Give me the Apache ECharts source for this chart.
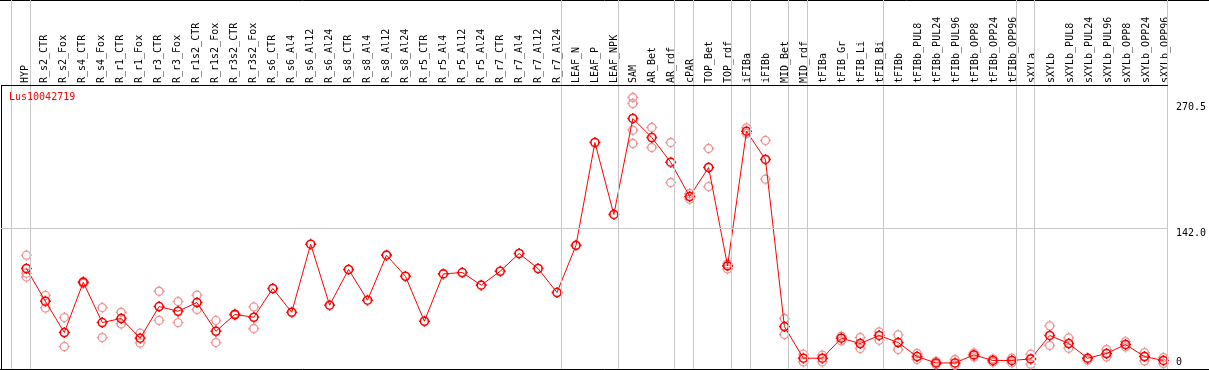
<!DOCTYPE html>
<html><head><meta charset="utf-8">
<script src="https://cdn.jsdelivr.net/npm/echarts@6/dist/echarts.min.js"></script>
<style>html,body{margin:0;padding:0;background:#fff}#c{width:1209px;height:370px}</style>
</head><body><div id="c"></div>
<script>
const geneName = 'Lus10042719';
const categories = ['HYP','R_s2_CTR','R_s2_Fox','R_s4_CTR','R_s4_Fox','R_r1_CTR','R_r1_Fox','R_r3_CTR','R_r3_Fox','R_r1s2_CTR','R_r1s2_Fox','R_r3s2_CTR','R_r3s2_Fox','R_s6_CTR','R_s6_Al4','R_s6_Al12','R_s6_Al24','R_s8_CTR','R_s8_Al4','R_s8_Al12','R_s8_Al24','R_r5_CTR','R_r5_Al4','R_r5_Al12','R_r5_Al24','R_r7_CTR','R_r7_Al4','R_r7_Al12','R_r7_Al24','LEAF_N','LEAF_P','LEAF_NPK','SAM','AR_Bet','AR_rdf','cPAR','TOP_Bet','TOP_rdf','iFIBa','iFIBb','MID_Bet','MID_rdf','tFIBa','tFIB_Gr','tFIB_Li','tFIB_Bi','tFIBb','tFIBb_PUL8','tFIBb_PUL24','tFIBb_PUL96','tFIBb_OPP8','tFIBb_OPP24','tFIBb_OPP96','sXYLa','sXYLb','sXYLb_PUL8','sXYLb_PUL24','sXYLb_PUL96','sXYLb_OPP8','sXYLb_OPP24','sXYLb_OPP96'];
const meanValues = [101.2,67.8,35.9,87.2,46.1,50.2,30.1,62.4,57.6,66.5,37.2,54.3,51.5,80.8,56.6,126.0,63.8,100.2,68.9,114.8,93.3,47.4,95.7,97.1,84.2,98.4,116.5,101.2,76.7,124.8,229.7,156.3,254.2,234.8,209.6,174.6,204.2,103.9,241.2,212.4,42.0,9.7,9.7,30.1,24.7,32.9,25.7,11.4,4.9,4.9,13.1,7.4,7.4,9.0,32.9,24.7,9.7,14.5,23.7,11.4,7.4];
const rep1 = [114.8,73.7,51.2,88.0,61.4,56.6,35.2,78.0,67.5,74.0,48.2,55.0,62.0,null,null,null,null,null,null,null,null,null,null,null,null,null,null,null,null,null,null,null,275.6,245.0,229.7,177.7,223.6,105.9,244.6,231.8,50.2,13.8,12.8,32.1,30.8,36.5,33.5,14.5,6.5,8.4,15.1,9.0,9.7,13.8,42.7,30.4,9.7,18.6,26.7,15.5,10.4];
const rep2 = [96.4,61.0,21.6,86.0,30.8,44.7,25.3,48.2,46.1,59.4,25.7,53.6,40.0,null,null,null,null,null,null,null,null,null,null,null,null,null,null,null,null,null,null,null,228.7,224.6,188.9,171.9,184.8,100.8,238.9,192.3,33.9,5.9,5.9,27.4,19.6,28.1,18.6,8.4,3.3,2.6,11.0,5.6,4.9,3.6,22.7,19.9,7.7,11.0,21.2,7.0,4.3];
const rep3 = [92.6,null,null,null,null,null,null,null,null,null,null,null,null,null,null,null,null,null,null,null,null,null,null,null,null,null,null,null,null,null,null,null,269.5,null,null,null,null,null,null,null,null,null,null,null,null,null,null,null,null,null,null,null,null,null,null,null,null,null,null,null,null];
const rep4 = [null,null,null,null,null,null,null,null,null,null,null,null,null,null,null,null,null,null,null,null,null,null,null,null,null,null,null,null,null,null,null,null,242.3,null,null,null,null,null,null,null,null,null,null,null,null,null,null,null,null,null,null,null,null,null,null,null,null,null,null,null,null];
const yTickValues = [142.0, 270.5];
const yZeroTick = [0];
const groupBreaks = [-1, 0, 28, 31, 34, 35, 37, 38, 40, 41, 45, 52, 53, 60];

const X_MIN = -1.34211, X_MAX = 60.23679;
const Y_MIN = -1.29, Y_MAX = 375.03;
const TOP_LINE = 287.83;
const FONT = 'DejaVu Sans Mono';
const SYM = 'path://M5.5,0L5.5,1.5M5.5,9.5L5.5,11M0,5.5L1.5,5.5M9.5,5.5L11,5.5M1.5,5.5A4,4,0,1,0,9.5,5.5A4,4,0,1,0,1.5,5.5Z';

const repPoints = [];
[rep1, rep2, rep3, rep4].forEach(r => r.forEach((v, i) => { if (v !== null) repPoints.push([i, v]); }));
const meanPoints = meanValues.map((v, i) => [i, v]);

const markData = groupBreaks.map(b => ({ xAxis: b + 0.21053 }));
markData.push({ yAxis: 142.0 });
markData.push({ yAxis: TOP_LINE, lineStyle: { color: '#000' } });

const chart = echarts.init(document.getElementById('c'), null, { renderer: 'canvas' });
chart.setOption({
  animation: false,
  backgroundColor: '#fff',
  title: { text: geneName, left: 9, top: 92, padding: 0,
    textStyle: { color: '#ff0000', fontSize: 10, fontWeight: 'normal', fontFamily: FONT } },
  grid: [
    { left: 1, right: 38, top: 0, bottom: 1 },
    { left: 15.5, width: 1159, top: 85, height: 1 }
  ],
  xAxis: [
    { type: 'value', gridIndex: 0, min: X_MIN, max: X_MAX, show: false },
    { type: 'category', gridIndex: 1, data: categories, position: 'top', boundaryGap: true,
      axisLine: { show: false }, axisTick: { show: false }, splitLine: { show: false },
      axisLabel: { interval: 0, rotate: 90, margin: 2, fontSize: 10, fontFamily: FONT, color: '#000' } }
  ],
  yAxis: [
    { type: 'value', gridIndex: 0, min: Y_MIN, max: Y_MAX, position: 'right',
      axisLine: { show: false }, axisTick: { show: false }, splitLine: { show: false },
      axisLabel: { customValues: yTickValues, margin: 8, verticalAlign: 'top', fontSize: 10, fontFamily: FONT, color: '#000',
        formatter: v => v.toFixed(1) } },
    { type: 'value', gridIndex: 0, min: Y_MIN, max: Y_MAX, position: 'right',
      axisLine: { show: false }, axisTick: { show: false }, splitLine: { show: false },
      axisLabel: { customValues: yZeroTick, margin: 8, verticalAlign: 'bottom', fontSize: 10, fontFamily: FONT, color: '#000',
        formatter: v => String(v) } },
    { type: 'value', gridIndex: 1, show: false }
  ],
  graphic: [
    { type: 'line', shape: { x1: 0, y1: 0.5, x2: 1209, y2: 0.5 }, style: { stroke: '#000', lineWidth: 1 }, silent: true },
    { type: 'line', shape: { x1: 0, y1: 369.5, x2: 1209, y2: 369.5 }, style: { stroke: '#000', lineWidth: 1 }, silent: true },
    { type: 'line', shape: { x1: 1.5, y1: 85, x2: 1.5, y2: 370 }, style: { stroke: '#000', lineWidth: 1 }, silent: true }
  ],
  series: [
    { type: 'scatter', xAxisIndex: 0, yAxisIndex: 0, data: repPoints, symbol: SYM, symbolSize: 11, z: 2, clip: false,
      itemStyle: { color: 'transparent', borderColor: '#f09090', borderWidth: 1.3, opacity: 1 },
      markLine: { silent: true, symbol: ['none', 'none'], label: { show: false }, animation: false,
        lineStyle: { color: '#c8c8c8', width: 1, type: 'solid' }, emphasis: { disabled: true }, data: markData } },
    { type: 'line', xAxisIndex: 0, yAxisIndex: 0, data: meanPoints, symbol: SYM, symbolSize: 11, showAllSymbol: true, z: 3, clip: false,
      lineStyle: { color: '#ff0000', width: 1 },
      itemStyle: { color: 'transparent', borderColor: '#ff0000', borderWidth: 1.6 } }
  ]
});
</script></body></html>
